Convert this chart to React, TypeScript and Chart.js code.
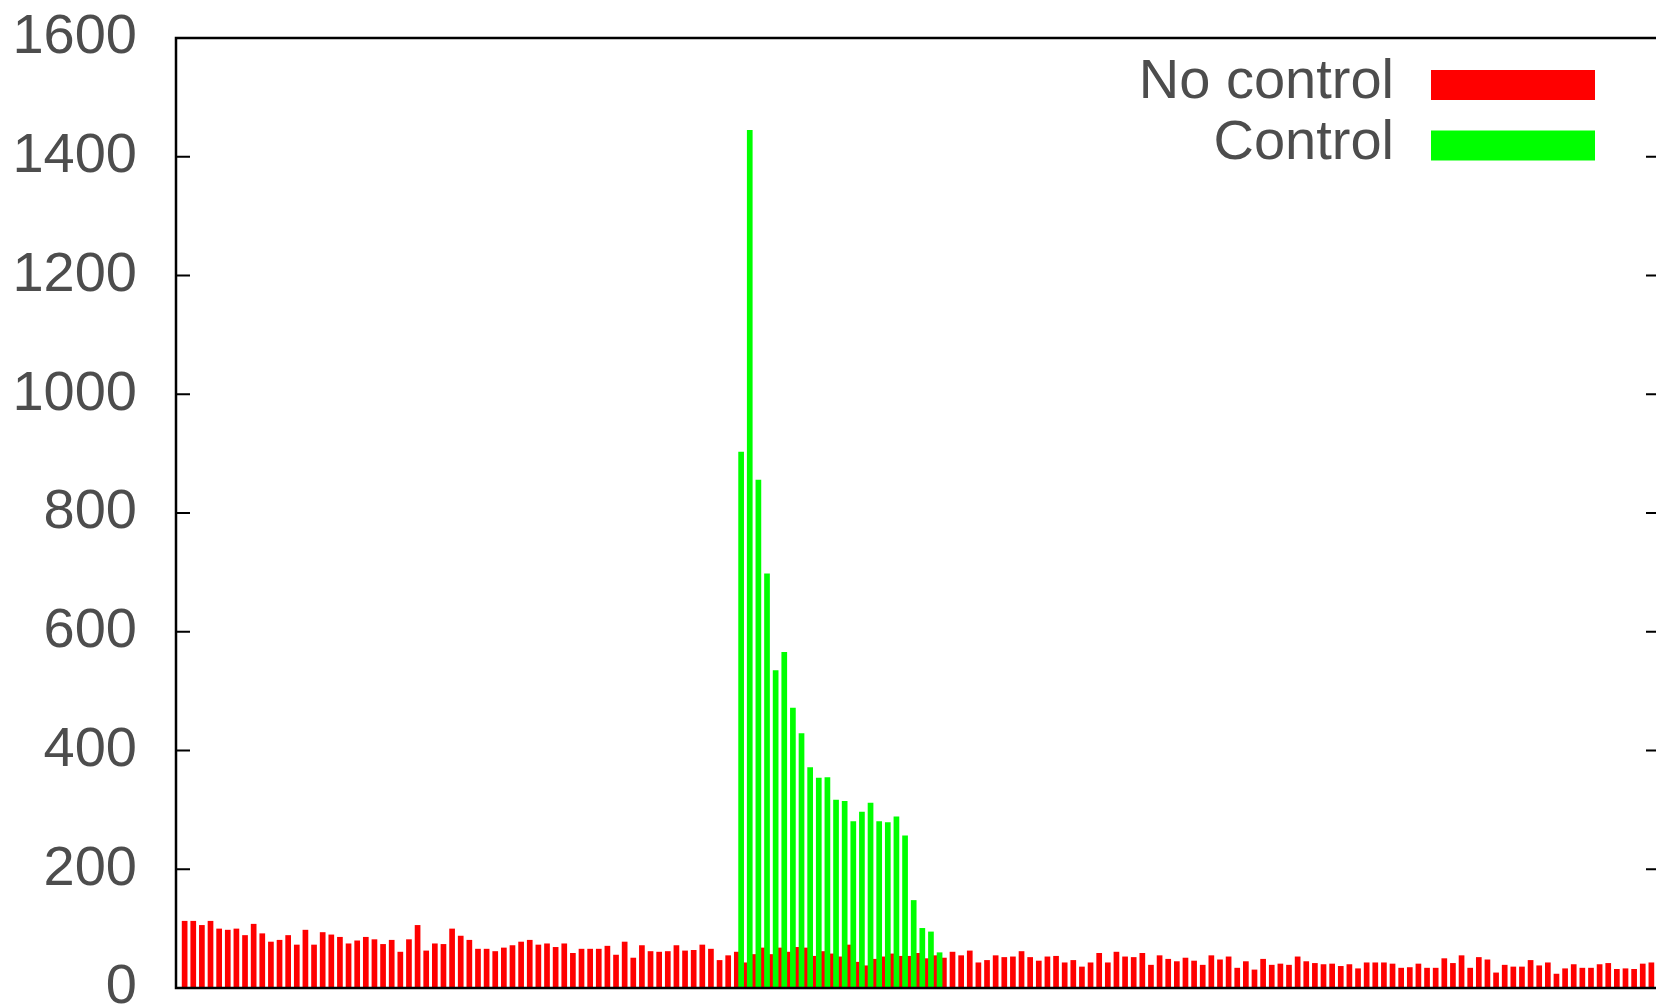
import React, { useEffect, useRef } from "react";
import { Chart, registerables } from "chart.js";

Chart.register(...registerables);

// ---- data ----
const seriesLabels = ["No control", "Control"];
const seriesColors = ["#ff0000", "#00ff00"];

// "No control": one bar per sample, starting at x = 0
const noControlFirstX = 0;
const noControlValues = [
  113, 113, 106, 113, 100, 98, 100, 89, 108, 92,
  78, 81, 89, 73, 98, 73, 94, 90, 86, 75,
  80, 86, 82, 74, 81, 61, 82, 106, 63, 75,
  74, 100, 88, 81, 66, 66, 62, 68, 72, 78,
  81, 73, 75, 69, 75, 59, 66, 66, 66, 71,
  56, 78, 51, 72, 62, 61, 62, 72, 63, 64,
  73, 66, 47, 55, 61, 43, 57, 68, 57, 68,
  61, 69, 68, 54, 62, 58, 53, 73, 44, 38,
  49, 53, 58, 54, 54, 59, 50, 55, 51, 61,
  55, 63, 43, 47, 55, 52, 53, 62, 52, 46,
  53, 54, 43, 47, 36, 43, 59, 43, 61, 53,
  52, 59, 39, 55, 49, 45, 51, 46, 39, 55,
  48, 53, 34, 45, 31, 49, 39, 41, 39, 53,
  45, 42, 40, 41, 37, 40, 33, 43, 43, 43,
  41, 34, 35, 41, 34, 34, 50, 42, 55, 34,
  52, 48, 26, 39, 36, 36, 47, 38, 43, 24,
  33, 40, 34, 34, 40, 42, 32, 33, 32, 41,
  43,
];

// "Control": bars offset by half a step, starting at x = 64.5
const controlFirstX = 64.5;
const controlValues = [
  903, 1445, 856, 698, 535, 566, 472, 429, 372, 354,
  355, 317, 315, 281, 297, 312, 281, 279, 289, 257,
  148, 101, 95, 60,
];

const xMin = -1;
const xMax = 171;
const yTickValues = [0, 200, 400, 600, 800, 1000, 1200, 1400, 1600];
const yTickLabels = ["0", "200", "400", "600", "800", "1000", "1200", "1400", "1600"];

// ---- styles ----
const FONT = '"Liberation Sans", Arial, Helvetica, sans-serif';
const TEXT_COLOR = "#4d4d4d";

const framePlugin = {
  id: "gnuplotFrame",
  afterDatasetsDraw(chart: any) {
    const { ctx, chartArea: a, scales } = chart;
    const y = scales.y;
    ctx.save();
    ctx.strokeStyle = "#000";
    ctx.lineWidth = 2;
    ctx.beginPath();
    for (const v of yTickValues) {
      const py = y.getPixelForValue(v);
      ctx.moveTo(a.left, py);
      ctx.lineTo(a.left + 14, py);
      ctx.moveTo(a.right, py);
      ctx.lineTo(a.right - 14, py);
    }
    ctx.stroke();
    ctx.lineWidth = 2.5;
    ctx.strokeRect(a.left, a.top, a.right - a.left, a.bottom - a.top);

    // legend (gnuplot style: text then sample, top-right inside plot)
    ctx.font = `56px ${FONT}`;
    ctx.textAlign = "right";
    ctx.textBaseline = "alphabetic";
    chart.data.datasets.forEach((ds: any, i: number) => {
      const base = 98 + i * 60.5;
      ctx.fillStyle = TEXT_COLOR;
      ctx.fillText(ds.label, 1394, base);
      ctx.fillStyle = ds.backgroundColor;
      ctx.fillRect(1431, 70 + i * 60.5, 164, 30);
    });
    ctx.restore();
  },
};

export default function App() {
  const canvasRef = useRef<HTMLCanvasElement | null>(null);

  useEffect(() => {
    const canvas = canvasRef.current;
    if (!canvas) return;
    const chart = new Chart(canvas, {
      type: "bar",
      data: {
        datasets: [
          {
            label: seriesLabels[0],
            data: noControlValues.map((v, i) => ({ x: noControlFirstX + i, y: v })),
            backgroundColor: seriesColors[0],
            borderWidth: 0,
            xAxisID: "x",
            order: 1,
          },
          {
            label: seriesLabels[1],
            data: controlValues.map((v, i) => ({ x: controlFirstX + i, y: v })),
            backgroundColor: seriesColors[1],
            borderWidth: 0,
            xAxisID: "x2",
            order: 0,
          },
        ],
      },
      options: {
        responsive: false,
        maintainAspectRatio: false,
        devicePixelRatio: 1,
        animation: false,
        grouped: false,
        categoryPercentage: 1,
        barPercentage: 0.66,
        layout: { padding: { left: 0, top: 38, right: 20, bottom: 16 } },
        plugins: {
          legend: { display: false },
          tooltip: { enabled: false },
        },
        scales: {
          x: {
            type: "linear",
            min: xMin,
            max: xMax,
            offset: false,
            display: false,
          },
          x2: {
            type: "linear",
            min: xMin,
            max: xMax,
            offset: false,
            display: false,
          },
          y: {
            type: "linear",
            min: yTickValues[0],
            max: yTickValues[yTickValues.length - 1],
            grid: { display: false, drawTicks: false },
            border: { display: false },
            afterBuildTicks: (scale: any) => {
              scale.ticks = yTickValues.map((v) => ({ value: v }));
            },
            afterFit: (scale: any) => {
              scale.width = 176;
              scale.paddingTop = 0;
              scale.paddingBottom = 0;
            },
            ticks: {
              padding: 39,
              color: TEXT_COLOR,
              font: { family: FONT, size: 56 },
              callback: (_v: any, i: number) => yTickLabels[i],
            },
          },
        },
      } as any,
      plugins: [framePlugin],
    });
    return () => chart.destroy();
  }, []);

  return (
    <div
      style={{
        position: "fixed",
        left: 0,
        top: 0,
        width: 1656,
        height: 1004,
        overflow: "hidden",
        background: "#fff",
      }}
    >
      <canvas ref={canvasRef} width={1680} height={1004} style={{ display: "block" }} />
    </div>
  );
}
